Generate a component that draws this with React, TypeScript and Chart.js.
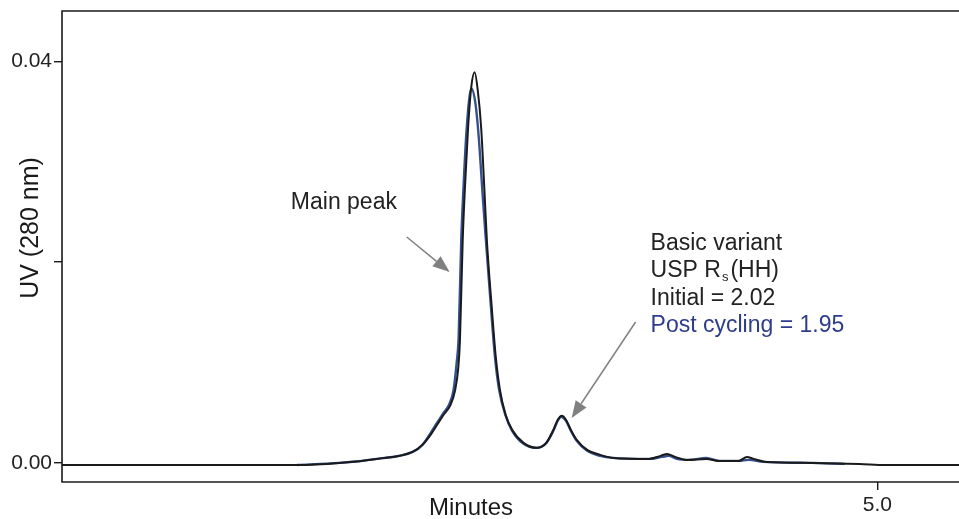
import React, { useEffect, useRef } from "react";
import { Chart, registerables } from "chart.js";

Chart.register(...registerables);

// ---- Data ----
const initialMinutes = [
  0, 1.44, 1.7, 1.93, 2.15, 2.21, 2.26, 2.3, 2.34, 2.38, 2.41, 2.43, 2.44, 2.457, 2.47, 2.49, 2.51, 2.53,
  2.55, 2.57, 2.59, 2.605, 2.635, 2.66, 2.685, 2.72, 2.76, 2.83, 2.91, 2.97, 3.01, 3.04, 3.065, 3.09, 3.12,
  3.156, 3.22, 3.3, 3.38, 3.6, 3.67, 3.71, 3.76, 3.83, 3.95, 4.03, 4.15, 4.2, 4.24, 4.32, 4.6, 4.89, 5.05, 5.5,
];
const initialUV = [
  -0.0002, -0.0002, 0.0, 0.0004, 0.0011, 0.0018, 0.0028, 0.0038, 0.0048, 0.0057, 0.0072, 0.0095, 0.0122,
  0.0222, 0.0272, 0.0334, 0.0375, 0.0389, 0.037, 0.0334, 0.0272, 0.0222, 0.0155, 0.0105, 0.0073, 0.0048,
  0.0033, 0.002, 0.0015, 0.002, 0.0032, 0.0043, 0.0047, 0.0043, 0.0033, 0.0023, 0.0013, 0.0008, 0.0005,
  0.0004, 0.0007, 0.0009, 0.0006, 0.0003, 0.0004, 0.0002, 0.0002, 0.0006, 0.0004, 0.0001, 0.0, -0.0001,
  -0.0002, -0.0002,
];

const postMinutes = [
  1.44, 1.7, 1.93, 2.15, 2.21, 2.3, 2.34, 2.37, 2.4, 2.42, 2.432, 2.448, 2.462, 2.48, 2.51, 2.535, 2.555,
  2.58, 2.6, 2.63, 2.655, 2.68, 2.72, 2.76, 2.83, 2.91, 2.97, 3.01, 3.04, 3.06, 3.09, 3.12, 3.156, 3.22, 3.3,
  3.38, 3.6, 3.68, 3.72, 3.77, 3.85, 3.95, 4.03, 4.15, 4.21, 4.3, 4.6, 4.8,
];
const postUV = [
  -0.0002, 0.0, 0.0004, 0.0011, 0.0018, 0.004, 0.005, 0.0057, 0.0072, 0.01, 0.0125, 0.0222, 0.0275, 0.033,
  0.0373, 0.0358, 0.0325, 0.0265, 0.022, 0.0155, 0.0105, 0.0073, 0.0047, 0.0032, 0.0019, 0.0015, 0.002,
  0.0031, 0.0042, 0.0046, 0.0042, 0.0032, 0.0022, 0.0012, 0.0007, 0.0005, 0.0004, 0.0006, 0.0007, 0.0004,
  0.0003, 0.0005, 0.0002, 0.0002, 0.0003, 0.0001, 0.0, -0.0001,
];

const yTickValues = [0, 0.02, 0.04];
const yTickLabels = ["0.00", "", "0.04"];
const xTickValues = [5];
const xTickLabels = ["5.0"];
const xTitle = "Minutes";
const yTitle = "UV (280 nm)";
const mainPeakLabel = "Main peak";
const variantTitle = "Basic variant";
const rsMain = "USP R";
const rsSub = "s";
const rsTail = "(HH)";
const initialLabel = "Initial = 2.02";
const postLabel = "Post cycling = 1.95";

// annotation anchors in data units [minutes, UV]
const mainLabelAt = [1.403, 0.02527];
const mainArrowFrom = [2.114, 0.0225];
const mainArrowTo = [2.377, 0.019];
const variantTextAt = [3.609, 0.0212];
const variantArrowFrom = [3.517, 0.01403];
const variantArrowTo = [3.125, 0.00448];

const BLACK = "#1a1a1a";
const BLUE = "#34508f";
const BLUE_TEXT = "#2e3c8c";
const GREY = "#808080";
const FONT = "'Liberation Sans', Arial, sans-serif";

function drawArrow(ctx: CanvasRenderingContext2D, x1: number, y1: number, x2: number, y2: number) {
  const ang = Math.atan2(y2 - y1, x2 - x1);
  const headLen = 17;
  const headHalf = 6.5;
  const bx = x2 - headLen * Math.cos(ang);
  const by = y2 - headLen * Math.sin(ang);
  ctx.save();
  ctx.strokeStyle = GREY;
  ctx.fillStyle = GREY;
  ctx.lineWidth = 1.5;
  ctx.beginPath();
  ctx.moveTo(x1, y1);
  ctx.lineTo(bx, by);
  ctx.stroke();
  ctx.beginPath();
  ctx.moveTo(x2, y2);
  ctx.lineTo(bx + headHalf * Math.sin(ang), by - headHalf * Math.cos(ang));
  ctx.lineTo(bx - headHalf * Math.sin(ang), by + headHalf * Math.cos(ang));
  ctx.closePath();
  ctx.fill();
  ctx.restore();
}

const overlayPlugin = {
  id: "overlay",
  afterDraw(chart: any) {
    const { ctx, chartArea, scales } = chart;
    const xs = scales.x;
    const ys = scales.y;
    const { left, right, top, bottom } = chartArea;
    ctx.save();
    // frame
    ctx.strokeStyle = BLACK;
    ctx.lineWidth = 1.6;
    ctx.beginPath();
    ctx.moveTo(right + 2, top);
    ctx.lineTo(left, top);
    ctx.lineTo(left, bottom);
    ctx.lineTo(right + 2, bottom);
    ctx.stroke();

    // axis titles
    ctx.fillStyle = BLACK;
    ctx.font = `24px ${FONT}`;
    ctx.textAlign = "center";
    ctx.textBaseline = "alphabetic";
    ctx.fillText(xTitle, 471, 515);
    ctx.save();
    ctx.font = `25px ${FONT}`;
    ctx.translate(38, 228);
    ctx.rotate(-Math.PI / 2);
    ctx.fillText(yTitle, 0, 0);
    ctx.restore();

    // annotations
    ctx.font = `23px ${FONT}`;
    ctx.textAlign = "left";
    ctx.fillStyle = "#222";
    ctx.fillText(mainPeakLabel, xs.getPixelForValue(mainLabelAt[0]), ys.getPixelForValue(mainLabelAt[1]));

    const tx = xs.getPixelForValue(variantTextAt[0]);
    const ty = ys.getPixelForValue(variantTextAt[1]);
    const lh = 27.3;
    ctx.fillText(variantTitle, tx, ty);
    ctx.fillText(rsMain, tx, ty + lh);
    const w = ctx.measureText(rsMain).width;
    ctx.font = `13px ${FONT}`;
    ctx.fillText(rsSub, tx + w + 1, ty + lh + 4);
    const sw = ctx.measureText(rsSub).width;
    ctx.font = `23px ${FONT}`;
    ctx.fillText(rsTail, tx + w + sw + 3, ty + lh);
    ctx.fillText(initialLabel, tx, ty + 2 * lh);
    ctx.fillStyle = BLUE_TEXT;
    ctx.fillText(postLabel, tx, ty + 3 * lh);

    drawArrow(
      ctx,
      xs.getPixelForValue(mainArrowFrom[0]),
      ys.getPixelForValue(mainArrowFrom[1]),
      xs.getPixelForValue(mainArrowTo[0]),
      ys.getPixelForValue(mainArrowTo[1])
    );
    drawArrow(
      ctx,
      xs.getPixelForValue(variantArrowFrom[0]),
      ys.getPixelForValue(variantArrowFrom[1]),
      xs.getPixelForValue(variantArrowTo[0]),
      ys.getPixelForValue(variantArrowTo[1])
    );
    ctx.restore();
  },
};

export default function App() {
  const ref = useRef<HTMLCanvasElement | null>(null);
  useEffect(() => {
    if (!ref.current) return;
    const chart = new Chart(ref.current, {
      type: "line",
      data: {
        datasets: [
          {
            label: "Initial",
            data: initialMinutes.map((x, i) => ({ x, y: initialUV[i] })),
            borderColor: BLACK,
            borderWidth: 2,
            pointRadius: 0,
            cubicInterpolationMode: "monotone",
            fill: false,
            order: 0,
          },
          {
            label: "Post cycling",
            data: postMinutes.map((x, i) => ({ x, y: postUV[i] })),
            borderColor: BLUE,
            borderWidth: 2.4,
            pointRadius: 0,
            cubicInterpolationMode: "monotone",
            fill: false,
            order: 1,
          },
        ],
      },
      options: {
        animation: false,
        responsive: true,
        maintainAspectRatio: false,
        layout: { padding: { top: 11, right: 0, left: 0, bottom: 0 } },
        plugins: { legend: { display: false }, tooltip: { enabled: false }, title: { display: false } },
        scales: {
          x: {
            type: "linear",
            min: 0,
            max: 5.5,
            afterBuildTicks: (s: any) => {
              s.ticks = xTickValues.map((v) => ({ value: v }));
            },
            afterFit: (s: any) => {
              s.height = 37;
              s.paddingLeft = 0;
              s.paddingRight = 0;
            },
            ticks: {
              callback: (v: any) => xTickLabels[xTickValues.indexOf(Number(v))] ?? "",
              font: { family: FONT, size: 21 },
              color: "#222",
              padding: 3,
              maxRotation: 0,
              autoSkip: false,
            },
            grid: { drawOnChartArea: false, drawTicks: true, tickLength: 8, color: BLACK, lineWidth: 1.4 },
            border: { display: false },
            title: { display: false },
          },
          y: {
            type: "linear",
            min: -0.0019,
            max: 0.045,
            afterBuildTicks: (s: any) => {
              s.ticks = yTickValues.map((v) => ({ value: v }));
            },
            afterFit: (s: any) => {
              s.width = 62;
              s.paddingTop = 0;
              s.paddingBottom = 0;
            },
            ticks: {
              callback: (v: any) => {
                const i = yTickValues.findIndex((t) => Math.abs(t - Number(v)) < 1e-9);
                return i >= 0 ? yTickLabels[i] : "";
              },
              font: { family: FONT, size: 21 },
              color: "#222",
              padding: 2,
              autoSkip: false,
            },
            grid: { drawOnChartArea: false, drawTicks: true, tickLength: 8, color: BLACK, lineWidth: 1.4 },
            border: { display: false },
            title: { display: false },
          },
        },
      },
      plugins: [overlayPlugin],
    } as any);
    return () => chart.destroy();
  }, []);
  return (
    <div style={{ position: "absolute", left: 0, top: 0, width: 959, height: 519, background: "#fff" }}>
      <canvas ref={ref} />
    </div>
  );
}
